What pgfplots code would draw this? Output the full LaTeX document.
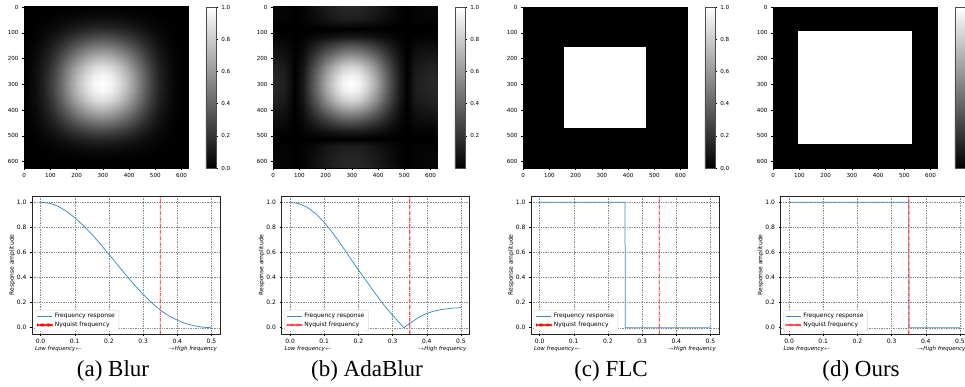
\documentclass[border=0pt]{standalone}
\usepackage{pgfplots}
\usepackage{pgfplotstable}
\pgfplotsset{compat=1.18}
\usepackage{fontspec}
\setmainfont{DejaVu Sans}
\newfontfamily\capfont{Liberation Serif}
\definecolor{fblue}{RGB}{66,139,194}
\definecolor{nred}{RGB}{255,0,0}
\definecolor{nredl}{RGB}{255,70,70}
\definecolor{lgframe}{RGB}{210,210,210}
\pgfplotsset{
  hm/.style={scale only axis, width=164pt, height=161pt,
    xmin=-0.5, xmax=624.5, ymin=-0.5, ymax=624.5, y dir=reverse,
    xtick={0,100,200,300,400,500,600}, ytick={0,100,200,300,400,500,600},
    tick align=outside, xtick pos=bottom, ytick pos=left, major tick length=2pt,
    tick style={black, line width=0.4pt}, axis line style={line width=0.45pt},
    tick label style={font=\fontsize{5.6}{6}\selectfont},
    /pgf/number format/assume math mode=true,
    colormap/blackwhite, point meta min=0, point meta max=1,
    colorbar,
    colorbar style={at={(parent axis.north east)}, anchor=north west, xshift=9.3pt,
      width=10pt, height=161pt, scale only axis, xtick=\empty,
      ytick={0,0.2,0.4,0.6,0.8,1}, ytick pos=right, yticklabel pos=right, tick align=outside,
      major tick length=2pt, tick style={black, line width=0.4pt},
      axis line style={line width=0.45pt, black!70},
      yticklabel style={font=\fontsize{5.6}{6}\selectfont, /pgf/number format/.cd, fixed, fixed zerofill, precision=1, assume math mode=true}},
  },
  fr/.style={scale only axis, width=188pt, height=138pt,
    xmin=-0.025, xmax=0.525, ymin=-0.05, ymax=1.05,
    xtick={0,0.1,0.2,0.3,0.4,0.5}, ytick={0,0.2,0.4,0.6,0.8,1},
    grid=major, grid style={dash pattern=on 1.4pt off 1pt, black!45, line width=0.35pt},
    tick align=outside, xtick pos=bottom, ytick pos=left, major tick length=2pt,
    tick style={black, line width=0.45pt}, axis line style={line width=0.7pt, black!85},
    tick label style={font=\fontsize{6}{7}\selectfont},
    /pgf/number format/assume math mode=true,
    xticklabel style={/pgf/number format/.cd, fixed, fixed zerofill, precision=1},
    yticklabel style={/pgf/number format/.cd, fixed, fixed zerofill, precision=1},
    ylabel={Response amplitude},
    every axis y label/.style={at={(axis description cs:-0.105,0.5)}, rotate=90, anchor=center, font=\fontsize{6}{7}\selectfont},
    legend style={at={(0.015,0.02)}, anchor=south west, font=\fontsize{6}{7}\selectfont,
      draw=lgframe, rounded corners=1.5pt, fill=white,
      inner xsep=2pt, inner ysep=1pt, row sep=-1pt, cells={anchor=west}},
    legend cell align=left,
    legend image code/.code={\draw[#1] (0pt,0pt) -- (15pt,0pt);},
    clip=false,
  },
  fresp/.style={draw=fblue, line width=0.75pt},
  nyqthin/.style={fill=nred, draw=none, unbounded coords=jump, forget plot},
  nyqthick/.style={fill=nredl, draw=none, unbounded coords=jump, forget plot},
  lgthin/.style={legend image code/.code={\fill[nred] (0pt,-0.4pt) rectangle (3.5pt,0.4pt) (4.5pt,-0.4pt) rectangle (5.3pt,0.4pt) (6.3pt,-0.4pt) rectangle (9.8pt,0.4pt) (10.8pt,-0.4pt) rectangle (11.6pt,0.4pt) (12.6pt,-0.4pt) rectangle (15pt,0.4pt);}},
  lgthick/.style={legend image code/.code={\fill[nredl] (0pt,-0.65pt) rectangle (3.5pt,0.65pt) (4.5pt,-0.65pt) rectangle (5.3pt,0.65pt) (6.3pt,-0.65pt) rectangle (9.8pt,0.65pt) (10.8pt,-0.65pt) rectangle (11.6pt,0.65pt) (12.6pt,-0.65pt) rectangle (15pt,0.65pt);}},
}
% Nyquist line at f = 0.35 as dash-dot pieces (y from -0.05 to 1.05); xa: thin line edges, xb: thick line edges
\pgfplotstableread[row sep=\\]{
xa xb y\\
0.3488 0.3481 -0.05\\ 0.3512 0.3519 -0.05\\ 0.3512 0.3519 -0.022\\ 0.3488 0.3481 -0.022\\ nan nan nan\\
0.3488 0.3481 -0.014\\ 0.3512 0.3519 -0.014\\ 0.3512 0.3519 -0.008\\ 0.3488 0.3481 -0.008\\ nan nan nan\\
0.3488 0.3481 0\\ 0.3512 0.3519 0\\ 0.3512 0.3519 0.028\\ 0.3488 0.3481 0.028\\ nan nan nan\\
0.3488 0.3481 0.036\\ 0.3512 0.3519 0.036\\ 0.3512 0.3519 0.042\\ 0.3488 0.3481 0.042\\ nan nan nan\\
0.3488 0.3481 0.05\\ 0.3512 0.3519 0.05\\ 0.3512 0.3519 0.078\\ 0.3488 0.3481 0.078\\ nan nan nan\\
0.3488 0.3481 0.086\\ 0.3512 0.3519 0.086\\ 0.3512 0.3519 0.092\\ 0.3488 0.3481 0.092\\ nan nan nan\\
0.3488 0.3481 0.1\\ 0.3512 0.3519 0.1\\ 0.3512 0.3519 0.128\\ 0.3488 0.3481 0.128\\ nan nan nan\\
0.3488 0.3481 0.136\\ 0.3512 0.3519 0.136\\ 0.3512 0.3519 0.142\\ 0.3488 0.3481 0.142\\ nan nan nan\\
0.3488 0.3481 0.15\\ 0.3512 0.3519 0.15\\ 0.3512 0.3519 0.178\\ 0.3488 0.3481 0.178\\ nan nan nan\\
0.3488 0.3481 0.186\\ 0.3512 0.3519 0.186\\ 0.3512 0.3519 0.192\\ 0.3488 0.3481 0.192\\ nan nan nan\\
0.3488 0.3481 0.2\\ 0.3512 0.3519 0.2\\ 0.3512 0.3519 0.228\\ 0.3488 0.3481 0.228\\ nan nan nan\\
0.3488 0.3481 0.236\\ 0.3512 0.3519 0.236\\ 0.3512 0.3519 0.242\\ 0.3488 0.3481 0.242\\ nan nan nan\\
0.3488 0.3481 0.25\\ 0.3512 0.3519 0.25\\ 0.3512 0.3519 0.278\\ 0.3488 0.3481 0.278\\ nan nan nan\\
0.3488 0.3481 0.286\\ 0.3512 0.3519 0.286\\ 0.3512 0.3519 0.292\\ 0.3488 0.3481 0.292\\ nan nan nan\\
0.3488 0.3481 0.3\\ 0.3512 0.3519 0.3\\ 0.3512 0.3519 0.328\\ 0.3488 0.3481 0.328\\ nan nan nan\\
0.3488 0.3481 0.336\\ 0.3512 0.3519 0.336\\ 0.3512 0.3519 0.342\\ 0.3488 0.3481 0.342\\ nan nan nan\\
0.3488 0.3481 0.35\\ 0.3512 0.3519 0.35\\ 0.3512 0.3519 0.378\\ 0.3488 0.3481 0.378\\ nan nan nan\\
0.3488 0.3481 0.386\\ 0.3512 0.3519 0.386\\ 0.3512 0.3519 0.392\\ 0.3488 0.3481 0.392\\ nan nan nan\\
0.3488 0.3481 0.4\\ 0.3512 0.3519 0.4\\ 0.3512 0.3519 0.428\\ 0.3488 0.3481 0.428\\ nan nan nan\\
0.3488 0.3481 0.436\\ 0.3512 0.3519 0.436\\ 0.3512 0.3519 0.442\\ 0.3488 0.3481 0.442\\ nan nan nan\\
0.3488 0.3481 0.45\\ 0.3512 0.3519 0.45\\ 0.3512 0.3519 0.478\\ 0.3488 0.3481 0.478\\ nan nan nan\\
0.3488 0.3481 0.486\\ 0.3512 0.3519 0.486\\ 0.3512 0.3519 0.492\\ 0.3488 0.3481 0.492\\ nan nan nan\\
0.3488 0.3481 0.5\\ 0.3512 0.3519 0.5\\ 0.3512 0.3519 0.528\\ 0.3488 0.3481 0.528\\ nan nan nan\\
0.3488 0.3481 0.536\\ 0.3512 0.3519 0.536\\ 0.3512 0.3519 0.542\\ 0.3488 0.3481 0.542\\ nan nan nan\\
0.3488 0.3481 0.55\\ 0.3512 0.3519 0.55\\ 0.3512 0.3519 0.578\\ 0.3488 0.3481 0.578\\ nan nan nan\\
0.3488 0.3481 0.586\\ 0.3512 0.3519 0.586\\ 0.3512 0.3519 0.592\\ 0.3488 0.3481 0.592\\ nan nan nan\\
0.3488 0.3481 0.6\\ 0.3512 0.3519 0.6\\ 0.3512 0.3519 0.628\\ 0.3488 0.3481 0.628\\ nan nan nan\\
0.3488 0.3481 0.636\\ 0.3512 0.3519 0.636\\ 0.3512 0.3519 0.642\\ 0.3488 0.3481 0.642\\ nan nan nan\\
0.3488 0.3481 0.65\\ 0.3512 0.3519 0.65\\ 0.3512 0.3519 0.678\\ 0.3488 0.3481 0.678\\ nan nan nan\\
0.3488 0.3481 0.686\\ 0.3512 0.3519 0.686\\ 0.3512 0.3519 0.692\\ 0.3488 0.3481 0.692\\ nan nan nan\\
0.3488 0.3481 0.7\\ 0.3512 0.3519 0.7\\ 0.3512 0.3519 0.728\\ 0.3488 0.3481 0.728\\ nan nan nan\\
0.3488 0.3481 0.736\\ 0.3512 0.3519 0.736\\ 0.3512 0.3519 0.742\\ 0.3488 0.3481 0.742\\ nan nan nan\\
0.3488 0.3481 0.75\\ 0.3512 0.3519 0.75\\ 0.3512 0.3519 0.778\\ 0.3488 0.3481 0.778\\ nan nan nan\\
0.3488 0.3481 0.786\\ 0.3512 0.3519 0.786\\ 0.3512 0.3519 0.792\\ 0.3488 0.3481 0.792\\ nan nan nan\\
0.3488 0.3481 0.8\\ 0.3512 0.3519 0.8\\ 0.3512 0.3519 0.828\\ 0.3488 0.3481 0.828\\ nan nan nan\\
0.3488 0.3481 0.836\\ 0.3512 0.3519 0.836\\ 0.3512 0.3519 0.842\\ 0.3488 0.3481 0.842\\ nan nan nan\\
0.3488 0.3481 0.85\\ 0.3512 0.3519 0.85\\ 0.3512 0.3519 0.878\\ 0.3488 0.3481 0.878\\ nan nan nan\\
0.3488 0.3481 0.886\\ 0.3512 0.3519 0.886\\ 0.3512 0.3519 0.892\\ 0.3488 0.3481 0.892\\ nan nan nan\\
0.3488 0.3481 0.9\\ 0.3512 0.3519 0.9\\ 0.3512 0.3519 0.928\\ 0.3488 0.3481 0.928\\ nan nan nan\\
0.3488 0.3481 0.936\\ 0.3512 0.3519 0.936\\ 0.3512 0.3519 0.942\\ 0.3488 0.3481 0.942\\ nan nan nan\\
0.3488 0.3481 0.95\\ 0.3512 0.3519 0.95\\ 0.3512 0.3519 0.978\\ 0.3488 0.3481 0.978\\ nan nan nan\\
0.3488 0.3481 0.986\\ 0.3512 0.3519 0.986\\ 0.3512 0.3519 0.992\\ 0.3488 0.3481 0.992\\ nan nan nan\\
0.3488 0.3481 1.0\\ 0.3512 0.3519 1.0\\ 0.3512 0.3519 1.028\\ 0.3488 0.3481 1.028\\ nan nan nan\\
0.3488 0.3481 1.036\\ 0.3512 0.3519 1.036\\ 0.3512 0.3519 1.042\\ 0.3488 0.3481 1.042\\
}\nyqtab
\newcommand{\lowhigh}{%
  \node[anchor=west, inner sep=0pt, font=\itshape\fontsize{5.5}{6}\selectfont] at (axis description cs:0.015,-0.11) {Low frequency$\scriptscriptstyle\leftarrow$};
  \node[anchor=east, inner sep=0pt, font=\itshape\fontsize{5.5}{6}\selectfont] at (axis description cs:0.985,-0.11) {$\scriptscriptstyle\rightarrow$High frequency};
}
\begin{document}
\begin{tikzpicture}
\useasboundingbox (0,0) rectangle (965pt,387pt);

% ---------- (a) Blur heatmap ----------
\begin{axis}[hm, at={(24pt,219pt)}, anchor=south west]
\addplot[matrix plot*, shader=interp, mesh/cols=21, point meta=explicit] table[row sep=\\, x=x, y=y, meta=c]{
x y c\\
-0.5 -0.5 0\\ 31 -0.5 0\\ 62 -0.5 0\\ 93 -0.5 0\\ 125 -0.5 0\\ 156 -0.5 0\\ 187 -0.5 0\\ 218 -0.5 0\\ 250 -0.5 0\\ 281 -0.5 0\\ 312 -0.5 0\\ 343 -0.5 0\\ 375 -0.5 0\\ 406 -0.5 0\\ 437 -0.5 0\\ 468 -0.5 0\\ 500 -0.5 0\\ 531 -0.5 0\\ 562 -0.5 0\\ 593 -0.5 0\\ 624.5 -0.5 0\\
-0.5 31 0\\ 31 31 0\\ 62 31 0.001\\ 93 31 0.002\\ 125 31 0.004\\ 156 31 0.006\\ 187 31 0.009\\ 218 31 0.011\\ 250 31 0.013\\ 281 31 0.015\\ 312 31 0.015\\ 343 31 0.015\\ 375 31 0.013\\ 406 31 0.011\\ 437 31 0.009\\ 468 31 0.006\\ 500 31 0.004\\ 531 31 0.002\\ 562 31 0.001\\ 593 31 0\\ 624.5 31 0\\
-0.5 62 0\\ 31 62 0.001\\ 62 62 0.004\\ 93 62 0.008\\ 125 62 0.016\\ 156 62 0.025\\ 187 62 0.035\\ 218 62 0.044\\ 250 62 0.053\\ 281 62 0.058\\ 312 62 0.06\\ 343 62 0.058\\ 375 62 0.053\\ 406 62 0.044\\ 437 62 0.035\\ 468 62 0.025\\ 500 62 0.016\\ 531 62 0.008\\ 562 62 0.004\\ 593 62 0.001\\ 624.5 62 0\\
-0.5 93 0\\ 31 93 0.002\\ 62 93 0.008\\ 93 93 0.02\\ 125 93 0.037\\ 156 93 0.059\\ 187 93 0.082\\ 218 93 0.104\\ 250 93 0.123\\ 281 93 0.136\\ 312 93 0.14\\ 343 93 0.136\\ 375 93 0.123\\ 406 93 0.104\\ 437 93 0.082\\ 468 93 0.059\\ 500 93 0.037\\ 531 93 0.02\\ 562 93 0.008\\ 593 93 0.002\\ 624.5 93 0\\
-0.5 125 0\\ 31 125 0.004\\ 62 125 0.016\\ 93 125 0.037\\ 125 125 0.071\\ 156 125 0.112\\ 187 125 0.156\\ 218 125 0.197\\ 250 125 0.234\\ 281 125 0.258\\ 312 125 0.266\\ 343 125 0.258\\ 375 125 0.234\\ 406 125 0.197\\ 437 125 0.156\\ 468 125 0.112\\ 500 125 0.071\\ 531 125 0.037\\ 562 125 0.016\\ 593 125 0.004\\ 624.5 125 0\\
-0.5 156 0\\ 31 156 0.006\\ 62 156 0.025\\ 93 156 0.059\\ 125 156 0.112\\ 156 156 0.176\\ 187 156 0.246\\ 218 156 0.311\\ 250 156 0.369\\ 281 156 0.407\\ 312 156 0.42\\ 343 156 0.407\\ 375 156 0.369\\ 406 156 0.311\\ 437 156 0.246\\ 468 156 0.176\\ 500 156 0.112\\ 531 156 0.059\\ 562 156 0.025\\ 593 156 0.006\\ 624.5 156 0\\
-0.5 187 0\\ 31 187 0.009\\ 62 187 0.035\\ 93 187 0.082\\ 125 187 0.156\\ 156 187 0.246\\ 187 187 0.342\\ 218 187 0.433\\ 250 187 0.514\\ 281 187 0.567\\ 312 187 0.585\\ 343 187 0.567\\ 375 187 0.514\\ 406 187 0.433\\ 437 187 0.342\\ 468 187 0.246\\ 500 187 0.156\\ 531 187 0.082\\ 562 187 0.035\\ 593 187 0.009\\ 624.5 187 0\\
-0.5 218 0\\ 31 218 0.011\\ 62 218 0.044\\ 93 218 0.104\\ 125 218 0.197\\ 156 218 0.311\\ 187 218 0.433\\ 218 218 0.548\\ 250 218 0.65\\ 281 218 0.718\\ 312 218 0.74\\ 343 218 0.718\\ 375 218 0.65\\ 406 218 0.548\\ 437 218 0.433\\ 468 218 0.311\\ 500 218 0.197\\ 531 218 0.104\\ 562 218 0.044\\ 593 218 0.011\\ 624.5 218 0\\
-0.5 250 0\\ 31 250 0.013\\ 62 250 0.053\\ 93 250 0.123\\ 125 250 0.234\\ 156 250 0.369\\ 187 250 0.514\\ 218 250 0.65\\ 250 250 0.771\\ 281 250 0.852\\ 312 250 0.878\\ 343 250 0.852\\ 375 250 0.771\\ 406 250 0.65\\ 437 250 0.514\\ 468 250 0.369\\ 500 250 0.234\\ 531 250 0.123\\ 562 250 0.053\\ 593 250 0.013\\ 624.5 250 0\\
-0.5 281 0\\ 31 281 0.015\\ 62 281 0.058\\ 93 281 0.136\\ 125 281 0.258\\ 156 281 0.407\\ 187 281 0.567\\ 218 281 0.718\\ 250 281 0.852\\ 281 281 0.941\\ 312 281 0.97\\ 343 281 0.941\\ 375 281 0.852\\ 406 281 0.718\\ 437 281 0.567\\ 468 281 0.407\\ 500 281 0.258\\ 531 281 0.136\\ 562 281 0.058\\ 593 281 0.015\\ 624.5 281 0\\
-0.5 312 0\\ 31 312 0.015\\ 62 312 0.06\\ 93 312 0.14\\ 125 312 0.266\\ 156 312 0.42\\ 187 312 0.585\\ 218 312 0.74\\ 250 312 0.878\\ 281 312 0.97\\ 312 312 1\\ 343 312 0.97\\ 375 312 0.878\\ 406 312 0.74\\ 437 312 0.585\\ 468 312 0.42\\ 500 312 0.266\\ 531 312 0.14\\ 562 312 0.06\\ 593 312 0.015\\ 624.5 312 0\\
-0.5 343 0\\ 31 343 0.015\\ 62 343 0.058\\ 93 343 0.136\\ 125 343 0.258\\ 156 343 0.407\\ 187 343 0.567\\ 218 343 0.718\\ 250 343 0.852\\ 281 343 0.941\\ 312 343 0.97\\ 343 343 0.941\\ 375 343 0.852\\ 406 343 0.718\\ 437 343 0.567\\ 468 343 0.407\\ 500 343 0.258\\ 531 343 0.136\\ 562 343 0.058\\ 593 343 0.015\\ 624.5 343 0\\
-0.5 375 0\\ 31 375 0.013\\ 62 375 0.053\\ 93 375 0.123\\ 125 375 0.234\\ 156 375 0.369\\ 187 375 0.514\\ 218 375 0.65\\ 250 375 0.771\\ 281 375 0.852\\ 312 375 0.878\\ 343 375 0.852\\ 375 375 0.771\\ 406 375 0.65\\ 437 375 0.514\\ 468 375 0.369\\ 500 375 0.234\\ 531 375 0.123\\ 562 375 0.053\\ 593 375 0.013\\ 624.5 375 0\\
-0.5 406 0\\ 31 406 0.011\\ 62 406 0.044\\ 93 406 0.104\\ 125 406 0.197\\ 156 406 0.311\\ 187 406 0.433\\ 218 406 0.548\\ 250 406 0.65\\ 281 406 0.718\\ 312 406 0.74\\ 343 406 0.718\\ 375 406 0.65\\ 406 406 0.548\\ 437 406 0.433\\ 468 406 0.311\\ 500 406 0.197\\ 531 406 0.104\\ 562 406 0.044\\ 593 406 0.011\\ 624.5 406 0\\
-0.5 437 0\\ 31 437 0.009\\ 62 437 0.035\\ 93 437 0.082\\ 125 437 0.156\\ 156 437 0.246\\ 187 437 0.342\\ 218 437 0.433\\ 250 437 0.514\\ 281 437 0.567\\ 312 437 0.585\\ 343 437 0.567\\ 375 437 0.514\\ 406 437 0.433\\ 437 437 0.342\\ 468 437 0.246\\ 500 437 0.156\\ 531 437 0.082\\ 562 437 0.035\\ 593 437 0.009\\ 624.5 437 0\\
-0.5 468 0\\ 31 468 0.006\\ 62 468 0.025\\ 93 468 0.059\\ 125 468 0.112\\ 156 468 0.176\\ 187 468 0.246\\ 218 468 0.311\\ 250 468 0.369\\ 281 468 0.407\\ 312 468 0.42\\ 343 468 0.407\\ 375 468 0.369\\ 406 468 0.311\\ 437 468 0.246\\ 468 468 0.176\\ 500 468 0.112\\ 531 468 0.059\\ 562 468 0.025\\ 593 468 0.006\\ 624.5 468 0\\
-0.5 500 0\\ 31 500 0.004\\ 62 500 0.016\\ 93 500 0.037\\ 125 500 0.071\\ 156 500 0.112\\ 187 500 0.156\\ 218 500 0.197\\ 250 500 0.234\\ 281 500 0.258\\ 312 500 0.266\\ 343 500 0.258\\ 375 500 0.234\\ 406 500 0.197\\ 437 500 0.156\\ 468 500 0.112\\ 500 500 0.071\\ 531 500 0.037\\ 562 500 0.016\\ 593 500 0.004\\ 624.5 500 0\\
-0.5 531 0\\ 31 531 0.002\\ 62 531 0.008\\ 93 531 0.02\\ 125 531 0.037\\ 156 531 0.059\\ 187 531 0.082\\ 218 531 0.104\\ 250 531 0.123\\ 281 531 0.136\\ 312 531 0.14\\ 343 531 0.136\\ 375 531 0.123\\ 406 531 0.104\\ 437 531 0.082\\ 468 531 0.059\\ 500 531 0.037\\ 531 531 0.02\\ 562 531 0.008\\ 593 531 0.002\\ 624.5 531 0\\
-0.5 562 0\\ 31 562 0.001\\ 62 562 0.004\\ 93 562 0.008\\ 125 562 0.016\\ 156 562 0.025\\ 187 562 0.035\\ 218 562 0.044\\ 250 562 0.053\\ 281 562 0.058\\ 312 562 0.06\\ 343 562 0.058\\ 375 562 0.053\\ 406 562 0.044\\ 437 562 0.035\\ 468 562 0.025\\ 500 562 0.016\\ 531 562 0.008\\ 562 562 0.004\\ 593 562 0.001\\ 624.5 562 0\\
-0.5 593 0\\ 31 593 0\\ 62 593 0.001\\ 93 593 0.002\\ 125 593 0.004\\ 156 593 0.006\\ 187 593 0.009\\ 218 593 0.011\\ 250 593 0.013\\ 281 593 0.015\\ 312 593 0.015\\ 343 593 0.015\\ 375 593 0.013\\ 406 593 0.011\\ 437 593 0.009\\ 468 593 0.006\\ 500 593 0.004\\ 531 593 0.002\\ 562 593 0.001\\ 593 593 0\\ 624.5 593 0\\
-0.5 624.5 0\\ 31 624.5 0\\ 62 624.5 0\\ 93 624.5 0\\ 125 624.5 0\\ 156 624.5 0\\ 187 624.5 0\\ 218 624.5 0\\ 250 624.5 0\\ 281 624.5 0\\ 312 624.5 0\\ 343 624.5 0\\ 375 624.5 0\\ 406 624.5 0\\ 437 624.5 0\\ 468 624.5 0\\ 500 624.5 0\\ 531 624.5 0\\ 562 624.5 0\\ 593 624.5 0\\ 624.5 624.5 0\\
};
\end{axis}

% ---------- (b) AdaBlur heatmap ----------
\begin{axis}[hm, at={(273pt,219pt)}, anchor=south west, colorbar style={ytick={0.2,0.4,0.6,0.8,1}}]
\addplot[matrix plot*, shader=interp, mesh/cols=21, point meta=explicit] table[row sep=\\, x=x, y=y, meta=c]{
x y c\\
-0.5 -0.5 0.026\\ 31 -0.5 0.023\\ 62 -0.5 0.018\\ 104 -0.5 0\\ 125 -0.5 0.016\\ 156 -0.5 0.043\\ 187 -0.5 0.074\\ 218 -0.5 0.106\\ 250 -0.5 0.134\\ 281 -0.5 0.154\\ 312 -0.5 0.16\\ 343 -0.5 0.154\\ 375 -0.5 0.134\\ 406 -0.5 0.106\\ 437 -0.5 0.074\\ 468 -0.5 0.043\\ 500 -0.5 0.016\\ 520 -0.5 0\\ 562 -0.5 0.018\\ 593 -0.5 0.023\\ 624.5 -0.5 0.026\\
-0.5 31 0.023\\ 31 31 0.021\\ 62 31 0.017\\ 104 31 0\\ 125 31 0.015\\ 156 31 0.039\\ 187 31 0.067\\ 218 31 0.096\\ 250 31 0.122\\ 281 31 0.139\\ 312 31 0.145\\ 343 31 0.139\\ 375 31 0.122\\ 406 31 0.096\\ 437 31 0.067\\ 468 31 0.039\\ 500 31 0.015\\ 520 31 0\\ 562 31 0.017\\ 593 31 0.021\\ 624.5 31 0.023\\
-0.5 62 0.018\\ 31 62 0.017\\ 62 62 0.013\\ 104 62 0\\ 125 62 0.012\\ 156 62 0.031\\ 187 62 0.053\\ 218 62 0.076\\ 250 62 0.097\\ 281 62 0.11\\ 312 62 0.115\\ 343 62 0.11\\ 375 62 0.097\\ 406 62 0.076\\ 437 62 0.053\\ 468 62 0.031\\ 500 62 0.012\\ 520 62 0\\ 562 62 0.013\\ 593 62 0.017\\ 624.5 62 0.018\\
-0.5 104 0\\ 31 104 0\\ 62 104 0\\ 104 104 0\\ 125 104 0\\ 156 104 0\\ 187 104 0\\ 218 104 0\\ 250 104 0\\ 281 104 0\\ 312 104 0\\ 343 104 0\\ 375 104 0\\ 406 104 0\\ 437 104 0\\ 468 104 0\\ 500 104 0\\ 520 104 0\\ 562 104 0\\ 593 104 0\\ 624.5 104 0\\
-0.5 125 0.016\\ 31 125 0.015\\ 62 125 0.012\\ 104 125 0\\ 125 125 0.01\\ 156 125 0.027\\ 187 125 0.046\\ 218 125 0.066\\ 250 125 0.084\\ 281 125 0.096\\ 312 125 0.1\\ 343 125 0.096\\ 375 125 0.084\\ 406 125 0.066\\ 437 125 0.046\\ 468 125 0.027\\ 500 125 0.01\\ 520 125 0\\ 562 125 0.012\\ 593 125 0.015\\ 624.5 125 0.016\\
-0.5 156 0.043\\ 31 156 0.039\\ 62 156 0.031\\ 104 156 0\\ 125 156 0.027\\ 156 156 0.073\\ 187 156 0.124\\ 218 156 0.178\\ 250 156 0.227\\ 281 156 0.259\\ 312 156 0.27\\ 343 156 0.259\\ 375 156 0.227\\ 406 156 0.178\\ 437 156 0.124\\ 468 156 0.073\\ 500 156 0.027\\ 520 156 0\\ 562 156 0.031\\ 593 156 0.039\\ 624.5 156 0.043\\
-0.5 187 0.074\\ 31 187 0.067\\ 62 187 0.053\\ 104 187 0\\ 125 187 0.046\\ 156 187 0.124\\ 187 187 0.212\\ 218 187 0.304\\ 250 187 0.386\\ 281 187 0.442\\ 312 187 0.46\\ 343 187 0.442\\ 375 187 0.386\\ 406 187 0.304\\ 437 187 0.212\\ 468 187 0.124\\ 500 187 0.046\\ 520 187 0\\ 562 187 0.053\\ 593 187 0.067\\ 624.5 187 0.074\\
-0.5 218 0.106\\ 31 218 0.096\\ 62 218 0.076\\ 104 218 0\\ 125 218 0.066\\ 156 218 0.178\\ 187 218 0.304\\ 218 218 0.436\\ 250 218 0.554\\ 281 218 0.634\\ 312 218 0.66\\ 343 218 0.634\\ 375 218 0.554\\ 406 218 0.436\\ 437 218 0.304\\ 468 218 0.178\\ 500 218 0.066\\ 520 218 0\\ 562 218 0.076\\ 593 218 0.096\\ 624.5 218 0.106\\
-0.5 250 0.134\\ 31 250 0.122\\ 62 250 0.097\\ 104 250 0\\ 125 250 0.084\\ 156 250 0.227\\ 187 250 0.386\\ 218 250 0.554\\ 250 250 0.706\\ 281 250 0.806\\ 312 250 0.84\\ 343 250 0.806\\ 375 250 0.706\\ 406 250 0.554\\ 437 250 0.386\\ 468 250 0.227\\ 500 250 0.084\\ 520 250 0\\ 562 250 0.097\\ 593 250 0.122\\ 624.5 250 0.134\\
-0.5 281 0.154\\ 31 281 0.139\\ 62 281 0.11\\ 104 281 0\\ 125 281 0.096\\ 156 281 0.259\\ 187 281 0.442\\ 218 281 0.634\\ 250 281 0.806\\ 281 281 0.922\\ 312 281 0.96\\ 343 281 0.922\\ 375 281 0.806\\ 406 281 0.634\\ 437 281 0.442\\ 468 281 0.259\\ 500 281 0.096\\ 520 281 0\\ 562 281 0.11\\ 593 281 0.139\\ 624.5 281 0.154\\
-0.5 312 0.16\\ 31 312 0.145\\ 62 312 0.115\\ 104 312 0\\ 125 312 0.1\\ 156 312 0.27\\ 187 312 0.46\\ 218 312 0.66\\ 250 312 0.84\\ 281 312 0.96\\ 312 312 1\\ 343 312 0.96\\ 375 312 0.84\\ 406 312 0.66\\ 437 312 0.46\\ 468 312 0.27\\ 500 312 0.1\\ 520 312 0\\ 562 312 0.115\\ 593 312 0.145\\ 624.5 312 0.16\\
-0.5 343 0.154\\ 31 343 0.139\\ 62 343 0.11\\ 104 343 0\\ 125 343 0.096\\ 156 343 0.259\\ 187 343 0.442\\ 218 343 0.634\\ 250 343 0.806\\ 281 343 0.922\\ 312 343 0.96\\ 343 343 0.922\\ 375 343 0.806\\ 406 343 0.634\\ 437 343 0.442\\ 468 343 0.259\\ 500 343 0.096\\ 520 343 0\\ 562 343 0.11\\ 593 343 0.139\\ 624.5 343 0.154\\
-0.5 375 0.134\\ 31 375 0.122\\ 62 375 0.097\\ 104 375 0\\ 125 375 0.084\\ 156 375 0.227\\ 187 375 0.386\\ 218 375 0.554\\ 250 375 0.706\\ 281 375 0.806\\ 312 375 0.84\\ 343 375 0.806\\ 375 375 0.706\\ 406 375 0.554\\ 437 375 0.386\\ 468 375 0.227\\ 500 375 0.084\\ 520 375 0\\ 562 375 0.097\\ 593 375 0.122\\ 624.5 375 0.134\\
-0.5 406 0.106\\ 31 406 0.096\\ 62 406 0.076\\ 104 406 0\\ 125 406 0.066\\ 156 406 0.178\\ 187 406 0.304\\ 218 406 0.436\\ 250 406 0.554\\ 281 406 0.634\\ 312 406 0.66\\ 343 406 0.634\\ 375 406 0.554\\ 406 406 0.436\\ 437 406 0.304\\ 468 406 0.178\\ 500 406 0.066\\ 520 406 0\\ 562 406 0.076\\ 593 406 0.096\\ 624.5 406 0.106\\
-0.5 437 0.074\\ 31 437 0.067\\ 62 437 0.053\\ 104 437 0\\ 125 437 0.046\\ 156 437 0.124\\ 187 437 0.212\\ 218 437 0.304\\ 250 437 0.386\\ 281 437 0.442\\ 312 437 0.46\\ 343 437 0.442\\ 375 437 0.386\\ 406 437 0.304\\ 437 437 0.212\\ 468 437 0.124\\ 500 437 0.046\\ 520 437 0\\ 562 437 0.053\\ 593 437 0.067\\ 624.5 437 0.074\\
-0.5 468 0.043\\ 31 468 0.039\\ 62 468 0.031\\ 104 468 0\\ 125 468 0.027\\ 156 468 0.073\\ 187 468 0.124\\ 218 468 0.178\\ 250 468 0.227\\ 281 468 0.259\\ 312 468 0.27\\ 343 468 0.259\\ 375 468 0.227\\ 406 468 0.178\\ 437 468 0.124\\ 468 468 0.073\\ 500 468 0.027\\ 520 468 0\\ 562 468 0.031\\ 593 468 0.039\\ 624.5 468 0.043\\
-0.5 500 0.016\\ 31 500 0.015\\ 62 500 0.012\\ 104 500 0\\ 125 500 0.01\\ 156 500 0.027\\ 187 500 0.046\\ 218 500 0.066\\ 250 500 0.084\\ 281 500 0.096\\ 312 500 0.1\\ 343 500 0.096\\ 375 500 0.084\\ 406 500 0.066\\ 437 500 0.046\\ 468 500 0.027\\ 500 500 0.01\\ 520 500 0\\ 562 500 0.012\\ 593 500 0.015\\ 624.5 500 0.016\\
-0.5 520 0\\ 31 520 0\\ 62 520 0\\ 104 520 0\\ 125 520 0\\ 156 520 0\\ 187 520 0\\ 218 520 0\\ 250 520 0\\ 281 520 0\\ 312 520 0\\ 343 520 0\\ 375 520 0\\ 406 520 0\\ 437 520 0\\ 468 520 0\\ 500 520 0\\ 520 520 0\\ 562 520 0\\ 593 520 0\\ 624.5 520 0\\
-0.5 562 0.018\\ 31 562 0.017\\ 62 562 0.013\\ 104 562 0\\ 125 562 0.012\\ 156 562 0.031\\ 187 562 0.053\\ 218 562 0.076\\ 250 562 0.097\\ 281 562 0.11\\ 312 562 0.115\\ 343 562 0.11\\ 375 562 0.097\\ 406 562 0.076\\ 437 562 0.053\\ 468 562 0.031\\ 500 562 0.012\\ 520 562 0\\ 562 562 0.013\\ 593 562 0.017\\ 624.5 562 0.018\\
-0.5 593 0.023\\ 31 593 0.021\\ 62 593 0.017\\ 104 593 0\\ 125 593 0.015\\ 156 593 0.039\\ 187 593 0.067\\ 218 593 0.096\\ 250 593 0.122\\ 281 593 0.139\\ 312 593 0.145\\ 343 593 0.139\\ 375 593 0.122\\ 406 593 0.096\\ 437 593 0.067\\ 468 593 0.039\\ 500 593 0.015\\ 520 593 0\\ 562 593 0.017\\ 593 593 0.021\\ 624.5 593 0.023\\
-0.5 624.5 0.026\\ 31 624.5 0.023\\ 62 624.5 0.018\\ 104 624.5 0\\ 125 624.5 0.016\\ 156 624.5 0.043\\ 187 624.5 0.074\\ 218 624.5 0.106\\ 250 624.5 0.134\\ 281 624.5 0.154\\ 312 624.5 0.16\\ 343 624.5 0.154\\ 375 624.5 0.134\\ 406 624.5 0.106\\ 437 624.5 0.074\\ 468 624.5 0.043\\ 500 624.5 0.016\\ 520 624.5 0\\ 562 624.5 0.018\\ 593 624.5 0.023\\ 624.5 624.5 0.026\\
};
\end{axis}

% ---------- (c) FLC heatmap ----------
\begin{axis}[hm, at={(523pt,219pt)}, anchor=south west, axis background/.style={fill=black}]
\addplot[fill=white, draw=none] coordinates {(155.5,155.5) (468.5,155.5) (468.5,468.5) (155.5,468.5)} -- cycle;
\end{axis}

% ---------- (d) Ours heatmap ----------
\begin{axis}[hm, at={(773pt,219pt)}, anchor=south west, axis background/.style={fill=black}]
\addplot[fill=white, draw=none] coordinates {(93.5,93.5) (530.5,93.5) (530.5,530.5) (93.5,530.5)} -- cycle;
\end{axis}

% ---------- bottom row ----------
\begin{axis}[fr, at={(32pt,53pt)}, anchor=south west]
\addplot[fresp] coordinates {(0,1) (0.025,0.993) (0.05,0.97) (0.075,0.93) (0.1,0.878) (0.125,0.815) (0.15,0.745) (0.175,0.667) (0.2,0.585) (0.225,0.502) (0.25,0.42) (0.275,0.34) (0.3,0.266) (0.325,0.2) (0.35,0.14) (0.375,0.095) (0.4,0.06) (0.425,0.033) (0.45,0.015) (0.475,0.004) (0.5,0)};
\addlegendentry{Frequency response}
\addplot[nyqthin] table[x=xa, y=y] {\nyqtab};
\addlegendimage{lgthin}
\addlegendentry{Nyquist frequency}
\lowhigh
\end{axis}

\begin{axis}[fr, at={(281.5pt,53pt)}, anchor=south west]
\addplot[fresp] coordinates {(0,1) (0.025,0.99) (0.05,0.96) (0.075,0.91) (0.1,0.84) (0.125,0.755) (0.15,0.66) (0.175,0.56) (0.2,0.46) (0.225,0.365) (0.25,0.27) (0.275,0.18) (0.3,0.10) (0.32,0.04) (0.333,0) (0.35,0.035) (0.375,0.08) (0.4,0.115) (0.425,0.135) (0.45,0.148) (0.475,0.156) (0.5,0.16)};
\addlegendentry{Frequency response}
\addplot[nyqthick] table[x=xb, y=y] {\nyqtab};
\addlegendimage{lgthick}
\addlegendentry{Nyquist frequency}
\lowhigh
\end{axis}

\begin{axis}[fr, at={(531pt,53pt)}, anchor=south west]
\addplot[fresp] coordinates {(0,1) (0.25,1) (0.251,0) (0.5,0)};
\addlegendentry{Frequency response}
\addplot[nyqthin] table[x=xa, y=y] {\nyqtab};
\addlegendimage{lgthin}
\addlegendentry{Nyquist frequency}
\lowhigh
\end{axis}

\begin{axis}[fr, at={(780.5pt,53pt)}, anchor=south west]
\addplot[fresp] coordinates {(0,1) (0.35,1) (0.351,0) (0.5,0)};
\addlegendentry{Frequency response}
\addplot[nyqthick] table[x=xb, y=y] {\nyqtab};
\addlegendimage{lgthick}
\addlegendentry{Nyquist frequency}
\lowhigh
\end{axis}

% ---------- captions ----------
\node[font=\capfont\fontsize{23}{26}\selectfont] at (113pt,16pt) {(a) Blur};
\node[font=\capfont\fontsize{23}{26}\selectfont] at (367pt,16pt) {(b) AdaBlur};
\node[font=\capfont\fontsize{23}{26}\selectfont] at (611pt,16pt) {(c) FLC};
\node[font=\capfont\fontsize{23}{26}\selectfont] at (861pt,16pt) {(d) Ours};
\end{tikzpicture}
\end{document}
